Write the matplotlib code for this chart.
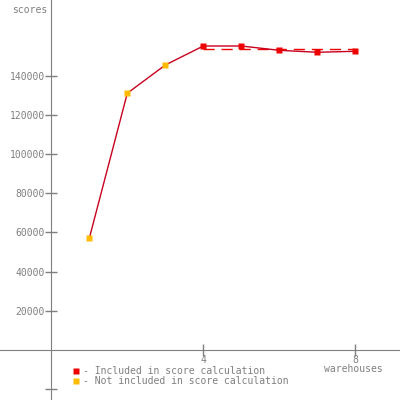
import matplotlib.pyplot as plt
from matplotlib.lines import Line2D

warehouses = [1, 2, 3, 4, 5, 6, 7, 8]
scores = [57000, 131000, 145400, 155100, 155100, 152900, 151900, 152400]
included = [False, False, False, True, True, True, True, True]
score_line_x = [4, 8]
score_value = 153500
yticks = [-20000, 20000, 40000, 60000, 80000, 100000, 120000, 140000]
ytick_labels = ['', '20000', '40000', '60000', '80000', '100000', '120000', '140000']
xticks = [4, 8]
xtick_labels = ['4', '8']

gray = '#7f7f7f'
red = '#ee0000'
orange = '#ffbb00'
line_color = '#c8001e'

plt.rcParams['font.family'] = 'DejaVu Sans Mono'

fig = plt.figure(figsize=(4, 4), dpi=100)
ax = fig.add_axes([0, 0, 1, 1])
ax.set_xlim(-1.35, 9.176)
ax.set_ylim(-25510, 178571)

# axes through origin
for side in ['top', 'right']:
    ax.spines[side].set_visible(False)
ax.spines['left'].set_position(('data', 0))
ax.spines['bottom'].set_position(('data', 0))
ax.spines['left'].set_color(gray)
ax.spines['bottom'].set_color(gray)
ax.tick_params(colors=gray, labelcolor=gray, labelsize=7, direction='inout', length=9, width=1)
ax.tick_params(axis='y', pad=0)
ax.tick_params(axis='x', pad=-1)
ax.set_yticks(yticks)
ax.set_yticklabels(ytick_labels)
ax.set_xticks(xticks)
ax.set_xticklabels(xtick_labels)

ax.plot(score_line_x, [score_value, score_value], color=red, lw=1, dashes=(8, 5))
ax.plot(warehouses, scores, color=line_color, lw=1)
for x, y, inc in zip(warehouses, scores, included):
    ax.plot(x, y, marker='s', ms=4.5, color=red if inc else orange, mec='none')

ax.text(47 / 400, 1 - 10 / 400, 'scores', transform=ax.transAxes, ha='right', va='center',
        color=gray, fontsize=7)
ax.text(353 / 400, 1 - 369 / 400, 'warehouses', transform=ax.transAxes, ha='center', va='center',
        color=gray, fontsize=7)

handles = [
    Line2D([], [], marker='s', ls='none', ms=4.5, color=red, mec='none'),
    Line2D([], [], marker='s', ls='none', ms=4.5, color=orange, mec='none'),
]
leg = ax.legend(handles, ['- Included in score calculation', '- Not included in score calculation'],
                loc='upper left', bbox_to_anchor=(73 / 400, 1 - 366 / 400), frameon=False,
                fontsize=7, labelspacing=0.0, handlelength=0.6, handletextpad=0.4,
                borderpad=0, borderaxespad=0)
for t in leg.get_texts():
    t.set_color(gray)

fig.savefig('out.png', dpi=100)
